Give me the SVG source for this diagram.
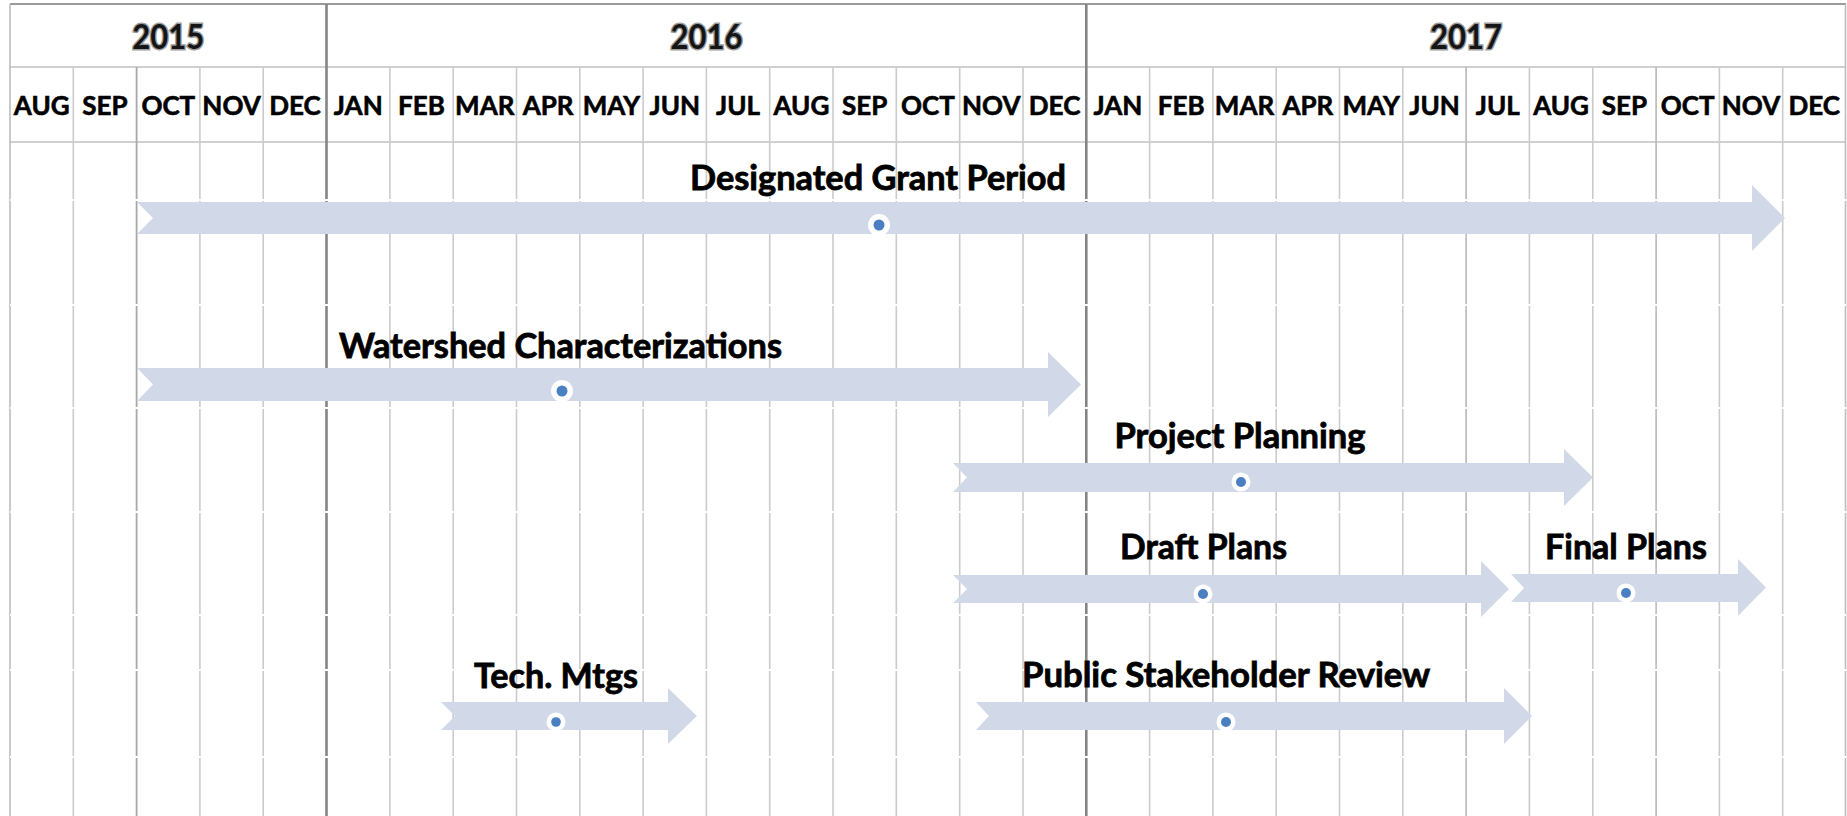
<svg xmlns="http://www.w3.org/2000/svg" width="1847" height="816" viewBox="0 0 1847 816">
<style>
.bg{fill:#ffffff}
.vl{stroke:#cbcbcb;stroke-width:1.6}
.vm{stroke:#a8a8a8;stroke-width:1.8}
.vy{stroke:#858585;stroke-width:2.6}
.hl{stroke:#d0d0d0;stroke-width:1.8}
.gap{stroke:#ffffff;stroke-width:2}
.yr{font-family:Lato,"Open Sans","Liberation Sans",sans-serif;font-weight:700;font-size:34px;fill:#151515;stroke:#9c9c9c;stroke-width:3;paint-order:stroke;text-anchor:middle}
.mo{font-family:Lato,"Open Sans","Liberation Sans",sans-serif;font-weight:700;font-size:26px;fill:#000;stroke:#000;stroke-width:0.6;text-anchor:middle}
.lbl{font-family:Lato,"Open Sans","Liberation Sans",sans-serif;font-weight:700;font-size:34px;fill:#000;stroke:#000;stroke-width:0.8;text-anchor:middle}
.bar{fill:#d1d9e8}
.dw{fill:#ffffff}
.db{fill:#4a7fc1}
</style>
<rect class="bg" x="0" y="0" width="1847" height="816"/>
<g id="grid">
  <line class="hl" x1="10" y1="4" x2="1846" y2="4" style="stroke:#9a9a9a"/>
  <line class="hl" x1="10" y1="67" x2="1846" y2="67"/>
  <line class="hl" x1="10" y1="142" x2="1846" y2="142"/>
  <line class="vl" x1="10" y1="4" x2="10" y2="816" style="stroke:#bdbdbd"/>
  <line class="vl" x1="1845.5" y1="4" x2="1845.5" y2="816" style="stroke:#bdbdbd"/>
  <line class="vl" x1="73.3" y1="67" x2="73.3" y2="816"/>
  <line class="vm" x1="136.6" y1="67" x2="136.6" y2="816"/>
  <line class="vl" x1="199.9" y1="67" x2="199.9" y2="816"/>
  <line class="vl" x1="263.2" y1="67" x2="263.2" y2="816"/>
  <line class="vl" x1="389.9" y1="67" x2="389.9" y2="816"/>
  <line class="vl" x1="453.2" y1="67" x2="453.2" y2="816"/>
  <line class="vl" x1="516.5" y1="67" x2="516.5" y2="816"/>
  <line class="vl" x1="579.8" y1="67" x2="579.8" y2="816"/>
  <line class="vl" x1="643.1" y1="67" x2="643.1" y2="816"/>
  <line class="vl" x1="706.4" y1="67" x2="706.4" y2="816"/>
  <line class="vl" x1="769.7" y1="67" x2="769.7" y2="816"/>
  <line class="vl" x1="833.0" y1="67" x2="833.0" y2="816"/>
  <line class="vl" x1="896.3" y1="67" x2="896.3" y2="816"/>
  <line class="vl" x1="959.7" y1="67" x2="959.7" y2="816"/>
  <line class="vl" x1="1023.0" y1="67" x2="1023.0" y2="816"/>
  <line class="vl" x1="1149.6" y1="67" x2="1149.6" y2="816"/>
  <line class="vl" x1="1212.9" y1="67" x2="1212.9" y2="816"/>
  <line class="vl" x1="1276.2" y1="67" x2="1276.2" y2="816"/>
  <line class="vl" x1="1339.5" y1="67" x2="1339.5" y2="816"/>
  <line class="vl" x1="1402.8" y1="67" x2="1402.8" y2="816"/>
  <line class="vl" x1="1466.1" y1="67" x2="1466.1" y2="816" style="stroke:#b8b8b8"/>
  <line class="vl" x1="1529.4" y1="67" x2="1529.4" y2="816"/>
  <line class="vl" x1="1592.8" y1="67" x2="1592.8" y2="816"/>
  <line class="vl" x1="1656.1" y1="67" x2="1656.1" y2="816" style="stroke:#b8b8b8"/>
  <line class="vl" x1="1719.4" y1="67" x2="1719.4" y2="816"/>
  <line class="vl" x1="1782.7" y1="67" x2="1782.7" y2="816"/>
  <line class="vy" x1="326.5" y1="4" x2="326.5" y2="816"/>
  <line class="vy" x1="1086.3" y1="4" x2="1086.3" y2="816"/>
  <line class="gap" x1="10" y1="200" x2="1846" y2="200"/>
  <line class="gap" x1="10" y1="305" x2="1846" y2="305"/>
  <line class="gap" x1="10" y1="408" x2="1846" y2="408"/>
  <line class="gap" x1="10" y1="512" x2="1846" y2="512"/>
  <line class="gap" x1="10" y1="615" x2="1846" y2="615"/>
  <line class="gap" x1="10" y1="670" x2="1846" y2="670"/>
  <line class="gap" x1="10" y1="757" x2="1846" y2="757"/>
</g>
<g id="years">
  <text class="yr" x="168.3" y="49" textLength="72" lengthAdjust="spacingAndGlyphs">2015</text>
  <text class="yr" x="706.4" y="49" textLength="72" lengthAdjust="spacingAndGlyphs">2016</text>
  <text class="yr" x="1466.1" y="49" textLength="72" lengthAdjust="spacingAndGlyphs">2017</text>
</g>
<g id="months">
  <text class="mo" x="41.7" y="115">AUG</text>
  <text class="mo" x="105.0" y="115">SEP</text>
  <text class="mo" x="168.3" y="115">OCT</text>
  <text class="mo" x="231.6" y="115">NOV</text>
  <text class="mo" x="294.9" y="115">DEC</text>
  <text class="mo" x="358.2" y="115">JAN</text>
  <text class="mo" x="421.5" y="115">FEB</text>
  <text class="mo" x="484.8" y="115">MAR</text>
  <text class="mo" x="548.1" y="115">APR</text>
  <text class="mo" x="611.4" y="115">MAY</text>
  <text class="mo" x="674.8" y="115">JUN</text>
  <text class="mo" x="738.1" y="115">JUL</text>
  <text class="mo" x="801.4" y="115">AUG</text>
  <text class="mo" x="864.7" y="115">SEP</text>
  <text class="mo" x="928.0" y="115">OCT</text>
  <text class="mo" x="991.3" y="115">NOV</text>
  <text class="mo" x="1054.6" y="115">DEC</text>
  <text class="mo" x="1117.9" y="115">JAN</text>
  <text class="mo" x="1181.2" y="115">FEB</text>
  <text class="mo" x="1244.5" y="115">MAR</text>
  <text class="mo" x="1307.9" y="115">APR</text>
  <text class="mo" x="1371.2" y="115">MAY</text>
  <text class="mo" x="1434.5" y="115">JUN</text>
  <text class="mo" x="1497.8" y="115">JUL</text>
  <text class="mo" x="1561.1" y="115">AUG</text>
  <text class="mo" x="1624.4" y="115">SEP</text>
  <text class="mo" x="1687.7" y="115">OCT</text>
  <text class="mo" x="1751.0" y="115">NOV</text>
  <text class="mo" x="1814.3" y="115">DEC</text>
</g>
<g id="grant-period">
  <polygon class="bar" points="137,202 1752,202 1752,185 1785,218 1752,251 1752,234 137,234 153,218"/>
  <circle class="dw" cx="879" cy="225" r="11"/>
  <circle class="db" cx="879" cy="225" r="5.5"/>
  <text class="lbl" x="878" y="190" textLength="376" lengthAdjust="spacingAndGlyphs">Designated Grant Period</text>
</g>
<g id="watershed">
  <polygon class="bar" points="137,368 1048,368 1048,352 1081,384.5 1048,417 1048,401 137,401 153,384.5"/>
  <circle class="dw" cx="562" cy="391" r="11"/>
  <circle class="db" cx="562" cy="391" r="5.5"/>
  <text class="lbl" x="560.5" y="358" textLength="443" lengthAdjust="spacingAndGlyphs">Watershed Characterizations</text>
</g>
<g id="project-planning">
  <polygon class="bar" points="953,463 1564,463 1564,449 1593,477.5 1564,506 1564,492 953,492 967,477.5"/>
  <circle class="dw" cx="1241" cy="482" r="9.5"/>
  <circle class="db" cx="1241" cy="482" r="5"/>
  <text class="lbl" x="1240" y="448" textLength="251" lengthAdjust="spacingAndGlyphs">Project Planning</text>
</g>
<g id="draft-plans">
  <polygon class="bar" points="953,575 1481,575 1481,561 1509,589 1481,617 1481,603 953,603 967,589"/>
  <circle class="dw" cx="1203" cy="594" r="9.5"/>
  <circle class="db" cx="1203" cy="594" r="5"/>
  <text class="lbl" x="1203.5" y="559" textLength="167" lengthAdjust="spacingAndGlyphs">Draft Plans</text>
</g>
<g id="final-plans">
  <polygon class="bar" points="1511,574 1738,574 1738,559 1766,587.5 1738,616 1738,602 1511,602 1524,588"/>
  <circle class="dw" cx="1626" cy="593" r="9.5"/>
  <circle class="db" cx="1626" cy="593" r="5"/>
  <text class="lbl" x="1626" y="559" textLength="162" lengthAdjust="spacingAndGlyphs">Final Plans</text>
</g>
<g id="tech-mtgs">
  <polygon class="bar" points="441,702 668,702 668,688 697,716 668,744 668,730 441,730 455,716"/>
  <circle class="dw" cx="556" cy="722" r="9.5"/>
  <circle class="db" cx="556" cy="722" r="4.8"/>
  <text class="lbl" x="556" y="688" textLength="164" lengthAdjust="spacingAndGlyphs">Tech. Mtgs</text>
</g>
<g id="public-review">
  <polygon class="bar" points="976,702 1504,702 1504,688 1532,716 1504,744 1504,730 976,730 989,716"/>
  <circle class="dw" cx="1226" cy="722" r="9.5"/>
  <circle class="db" cx="1226" cy="722" r="5"/>
  <text class="lbl" x="1226" y="687" textLength="408" lengthAdjust="spacingAndGlyphs">Public Stakeholder Review</text>
</g>
</svg>
